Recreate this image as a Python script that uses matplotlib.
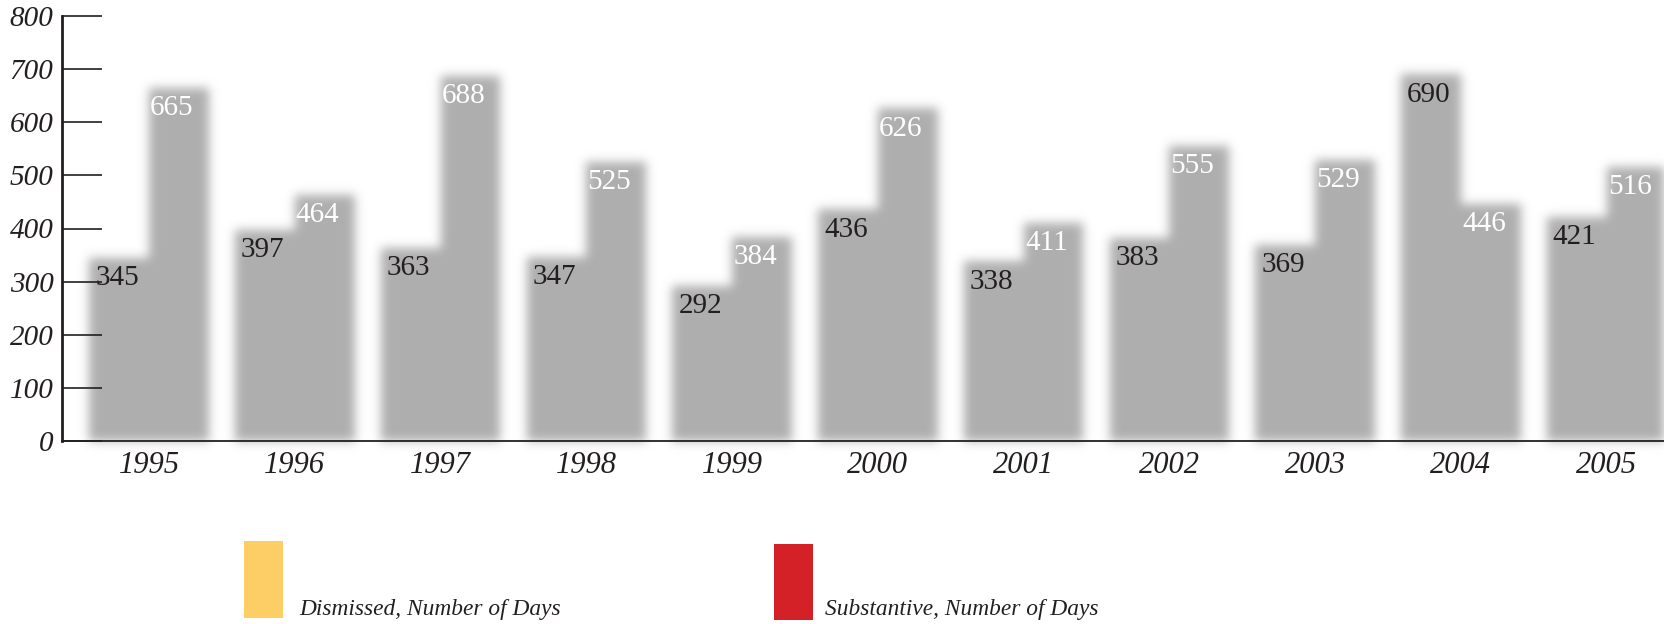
import numpy as np
import matplotlib
matplotlib.use("Agg")
import matplotlib.pyplot as plt
from matplotlib.collections import PatchCollection
from matplotlib.patches import Rectangle

years = ["1995", "1996", "1997", "1998", "1999", "2000", "2001", "2002", "2003", "2004", "2005"]
dismissed = [345, 397, 363, 347, 292, 436, 338, 383, 369, 690, 421]
substantive = [665, 464, 688, 525, 384, 626, 411, 555, 529, 446, 516]
yticks = [0, 100, 200, 300, 400, 500, 600, 700, 800]
legend_labels = ["Dismissed, Number of Days", "Substantive, Number of Days"]
legend_colors = ["#FDCD66", "#D42027"]

BAR_GRAY = (0.685, 0.685, 0.685)
FONT = "Liberation Serif"


def blur_filter(im, dpi):
    sigma = 5.0 * dpi / 100.0
    pad = int(3 * sigma) + 2
    src = np.pad(im, [(pad, pad), (pad, pad), (0, 0)], "constant")
    a = src[:, :, 3]
    r = int(3 * sigma)
    xs = np.arange(-r, r + 1)
    k = np.exp(-xs ** 2 / (2 * sigma ** 2))
    k /= k.sum()
    out = np.zeros_like(a)
    for i, w in zip(xs, k):
        out += w * np.roll(a, i, axis=0)
    out2 = np.zeros_like(a)
    for i, w in zip(xs, k):
        out2 += w * np.roll(out, i, axis=1)
    res = np.zeros_like(src)
    res[:, :, 0] = BAR_GRAY[0]
    res[:, :, 1] = BAR_GRAY[1]
    res[:, :, 2] = BAR_GRAY[2]
    res[:, :, 3] = np.clip(out2, 0, 1)
    return res, -pad, -pad


fig = plt.figure(figsize=(16.65, 6.24), dpi=100)
ax = fig.add_axes([62 / 1665, 1 - 441 / 624, 1 - 62 / 1665, (441 - 16) / 624])

x = np.arange(len(years))
w = 0.41
b1 = ax.bar(x - w / 2, dismissed, width=w, color=BAR_GRAY, linewidth=0)
b2 = ax.bar(x + w / 2, substantive, width=w, color=BAR_GRAY, linewidth=0)
rects = []
for p in list(b1) + list(b2):
    rects.append(Rectangle(p.get_xy(), p.get_width(), p.get_height()))
    p.remove()
coll = PatchCollection(rects, facecolor=BAR_GRAY, edgecolor="none", zorder=1)
coll.set_agg_filter(blur_filter)
coll.set_rasterized(True)
ax.add_collection(coll)

ax.set_xlim(-0.597, 10.40)
ax.set_ylim(0, 800)

for xi, v in zip(x, dismissed):
    ax.annotate(str(v), (xi - w / 2, v), xytext=(-1.5, -14.5), textcoords="offset points",
                ha="center", va="center", fontsize=21, family=FONT, color="#231F20", zorder=3)
for xi, v in zip(x, substantive):
    ax.annotate(str(v), (xi + w / 2, v), xytext=(-5, -14.5), textcoords="offset points",
                ha="center", va="center", fontsize=21, family=FONT, color="white", zorder=3)

ax.set_yticks(yticks)
ax.set_yticklabels([str(t) for t in yticks], fontsize=21, family=FONT, style="italic", color="#231F20")
ax.tick_params(axis="y", direction="in", length=29, width=1.2, pad=6, color="#231F20")
ax.set_xticks(x)
ax.set_xticklabels(years, fontsize=22, family=FONT, style="italic", color="#231F20")
ax.tick_params(axis="x", length=0, pad=7)
ax.yaxis.set_zorder(5)

ax.spines["top"].set_visible(False)
ax.spines["right"].set_visible(False)
ax.spines["left"].set_linewidth(2)
ax.spines["bottom"].set_linewidth(1.3)
ax.spines["left"].set_color("#231F20")
ax.spines["bottom"].set_color("#231F20")
ax.set_axisbelow(False)
for s in ax.spines.values():
    s.set_zorder(4)

# legend
legend_boxes = [(244, 541, 283, 618), (774, 544, 813, 620)]
legend_text_x = [299, 825]
for (x0, y0, x1, y1), c, lab, tx in zip(legend_boxes, legend_colors, legend_labels, legend_text_x):
    fig.patches.append(Rectangle((x0 / 1665, 1 - y1 / 624), (x1 - x0) / 1665, (y1 - y0) / 624,
                                 transform=fig.transFigure, facecolor=c, edgecolor="none"))
    fig.text(tx / 1665, 1 - 610 / 624, lab, fontsize=16.8, family=FONT, style="italic",
             color="#231F20", ha="left", va="center")

fig.savefig("out.png", dpi=100, facecolor="white")
